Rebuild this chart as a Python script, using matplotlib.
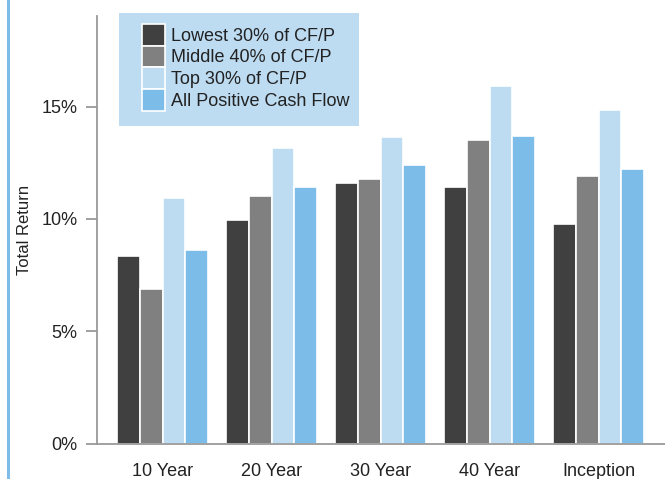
import numpy as np
import matplotlib
matplotlib.use('Agg')
import matplotlib.pyplot as plt
from matplotlib.lines import Line2D
from matplotlib.patches import Rectangle
from matplotlib.ticker import FuncFormatter

plt.rcParams['font.family'] = ['Liberation Sans', 'DejaVu Sans']

# Annualized total return by cash flow to price bucket
periods = ['10 Year', '20 Year', '30 Year', '40 Year', 'Inception']
series_names = ['Lowest 30% of CF/P', 'Middle 40% of CF/P',
                'Top 30% of CF/P', 'All Positive Cash Flow']
lowest = [8.35, 9.97, 11.58, 11.41, 9.76]
middle = [6.89, 11.00, 11.76, 13.51, 11.90]
top = [10.92, 13.14, 13.63, 15.92, 14.85]
all_positive = [8.62, 11.43, 12.38, 13.69, 12.23]
colors = ['#404040', '#808080', '#bddbf1', '#7bbde8']

W, H = 665, 479
fig = plt.figure(figsize=(W / 100, H / 100), dpi=100)
ax = fig.add_axes([97 / W, 1 - 443.5 / H, 568 / W, 427.5 / H])

x = np.arange(len(periods))
w = 0.2087
for i, (vals, name, c) in enumerate(zip([lowest, middle, top, all_positive],
                                         series_names, colors)):
    ax.bar(x + (i - 1.5) * w, vals, width=w, color=c, edgecolor='white',
           linewidth=1.2, label=name, zorder=2)

ax.set_xlim(-0.601, 4.61)
ax.set_ylim(0, 19.03)
ax.set_yticks([0, 5, 10, 15])
ax.yaxis.set_major_formatter(FuncFormatter(lambda v, p: f'{v:.0f}%'))
ax.set_xticks(x)
ax.set_xticklabels(periods)

for s in ['top', 'right']:
    ax.spines[s].set_visible(False)
for s in ['left', 'bottom']:
    ax.spines[s].set_color('#9a9a9a')
    ax.spines[s].set_linewidth(1.3)
ax.tick_params(axis='y', length=8, width=1.3, color='#9a9a9a', pad=6,
               labelsize=13, labelcolor='#222222')
ax.tick_params(axis='x', length=0, pad=14, labelsize=13, labelcolor='#222222')
ax.set_ylabel('Total Return', fontsize=12, color='#222222')
ax.yaxis.set_label_coords(-0.115, 0.5)

# legend panel: light blue box with the entries stacked inside
fig.add_artist(Rectangle((119 / W, 1 - 126 / H), 240 / W, 113 / H,
                         transform=fig.transFigure, facecolor='#bddbf1',
                         edgecolor='none', zorder=3))
leg = fig.legend(loc='upper left', bbox_to_anchor=(141.5 / W, 1 - 24 / H),
                 bbox_transform=fig.transFigure, frameon=False, fontsize=13,
                 handlelength=1.3, handleheight=1.47, handletextpad=0.33,
                 labelspacing=0, borderpad=0, borderaxespad=0)
leg.set_zorder(4)
for t in leg.get_texts():
    t.set_color('#222222')

# blue rule along the left edge of the figure
fig.add_artist(Line2D([8 / W, 8 / W], [0, 1], color='#7fbde8', linewidth=2.2))

fig.savefig('out.png', dpi=100)
